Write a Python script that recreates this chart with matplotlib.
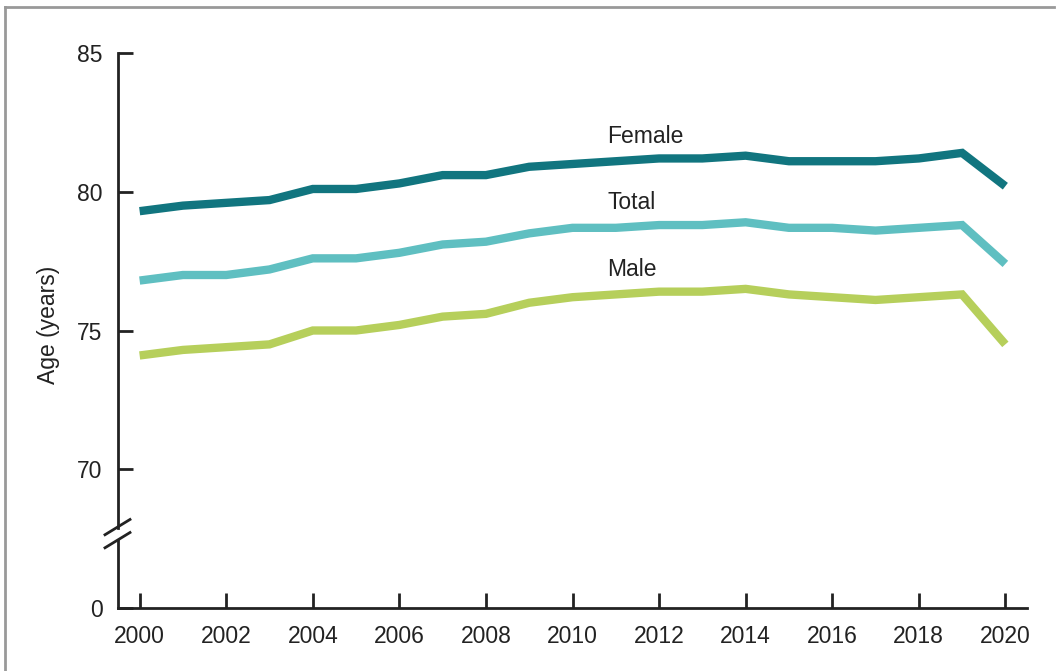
import matplotlib.pyplot as plt
import matplotlib.transforms as mtransforms
from matplotlib.lines import Line2D

# Life expectancy at birth, by sex
years = list(range(2000, 2021))
female = [79.3, 79.5, 79.6, 79.7, 80.1, 80.1, 80.3, 80.6, 80.6, 80.9, 81.0,
          81.1, 81.2, 81.2, 81.3, 81.1, 81.1, 81.1, 81.2, 81.4, 80.2]
total = [76.8, 77.0, 77.0, 77.2, 77.6, 77.6, 77.8, 78.1, 78.2, 78.5, 78.7,
         78.7, 78.8, 78.8, 78.9, 78.7, 78.7, 78.6, 78.7, 78.8, 77.4]
male = [74.1, 74.3, 74.4, 74.5, 75.0, 75.0, 75.2, 75.5, 75.6, 76.0, 76.2,
        76.3, 76.4, 76.4, 76.5, 76.3, 76.2, 76.1, 76.2, 76.3, 74.5]

series_names = ['Female', 'Total', 'Male']
colors = ['#11757f', '#5fbfc1', '#b6cf5b']

# broken axis: the "0" tick sits at 65 on the plotted scale
y_ticks = [65, 70, 75, 80, 85]
y_tick_labels = ['0', '70', '75', '80', '85']
x_ticks = list(range(2000, 2021, 2))

plt.rcParams['font.family'] = ['Liberation Sans', 'DejaVu Sans']

fig = plt.figure(figsize=(10.56, 6.71), dpi=100)
ax = fig.add_axes([118 / 1056, 1 - 608 / 671, (1027 - 118) / 1056, (608 - 53) / 671])

for vals, c in zip([female, total, male], colors):
    ax.plot(years, vals, color=c, linewidth=6, solid_joinstyle='miter',
            solid_capstyle='butt')

ax.set_xlim(1999.5, 2020.5)
ax.set_ylim(65, 85)
ax.set_xticks(x_ticks)
ax.set_yticks(y_ticks)
ax.set_yticklabels(y_tick_labels)

for s in ['top', 'right', 'left']:
    ax.spines[s].set_visible(False)
ax.spines['bottom'].set_linewidth(2)
ax.spines['bottom'].set_color('#222222')

ax.tick_params(axis='both', direction='in', length=11, width=2, color='#222222',
               labelsize=16.5, labelcolor='#222222')
ax.tick_params(axis='x', pad=12)
ax.tick_params(axis='y', pad=11)

# left spine drawn in two pieces with break marks
trans = mtransforms.blended_transform_factory(ax.transAxes, ax.transData)
ax.plot([0, 0], [65, 67.45], transform=trans, color='#222222', lw=2, clip_on=False)
ax.plot([0, 0], [67.9, 85], transform=trans, color='#222222', lw=2, clip_on=False)
ax.plot([-0.0143, 0.0132], [67.64, 68.19], transform=trans, color='#222222', lw=2, clip_on=False)
ax.plot([-0.0143, 0.0132], [67.17, 67.72], transform=trans, color='#222222', lw=2, clip_on=False)

ax.set_ylabel('Age (years)', fontsize=16.5, color='#222222')
ax.yaxis.set_label_coords(-0.064, 0.51)

# series labels
label_y = [82.0, 79.6, 77.2]
for name, ly in zip(series_names, label_y):
    ax.text(2010.8, ly, name, fontsize=16.5, color='#222222', va='center', ha='left')

# outer frame
fig.add_artist(Line2D([5 / 1056, 5 / 1056], [0, 1 - 7 / 671], transform=fig.transFigure,
                      color='#999999', lw=2))
fig.add_artist(Line2D([5 / 1056, 1054 / 1056], [1 - 7 / 671, 1 - 7 / 671],
                      transform=fig.transFigure, color='#999999', lw=2))

fig.savefig('out.png', dpi=100, facecolor='white')
